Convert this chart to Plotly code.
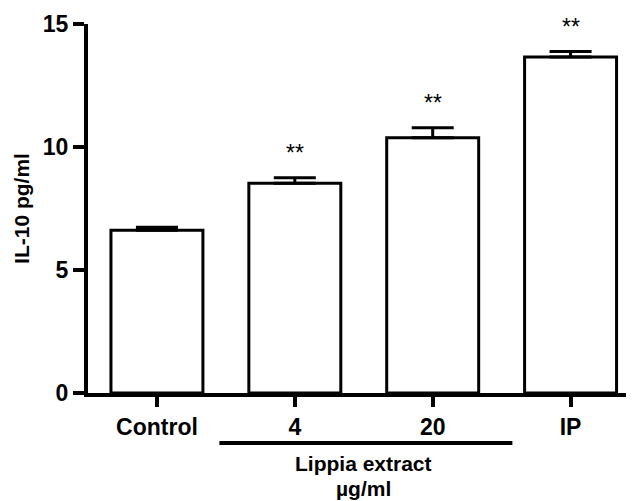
import plotly.graph_objects as go

categories = ["Control", "4", "20", "IP"]
values = [6.62, 8.53, 10.38, 13.66]
errors = [0.12, 0.22, 0.40, 0.22]
significance = ["", "**", "**", "**"]
y_ticks = [0, 5, 10, 15]
group_label = "Lippia extract"
unit_label = "µg/ml"

FONT = "Arial, Liberation Sans, Helvetica, sans-serif"
x_idx = list(range(len(categories)))

fig = go.Figure()
fig.add_trace(go.Bar(
    x=x_idx, y=values, width=0.667,
    marker=dict(color="white", line=dict(color="black", width=3)),
    error_y=dict(type="data", symmetric=False, array=errors,
                 arrayminus=[0] * len(errors),
                 color="black", thickness=3, width=21),
    showlegend=False,
))

annotations = []
for i, (v, e, s) in enumerate(zip(values, errors, significance)):
    if s:
        annotations.append(dict(
            x=i, y=v + e, xref="x", yref="y", text=s, showarrow=False,
            yanchor="bottom", yshift=10,
            font=dict(family=FONT, size=23, color="black"),
        ))

annotations.append(dict(x=1.5, y=-0.192, xref="x", yref="paper", text=group_label,
                        showarrow=False, yanchor="middle",
                        font=dict(family=FONT, size=21, color="black", weight="bold")))
annotations.append(dict(x=1.5, y=-0.26, xref="x", yref="paper", text=unit_label,
                        showarrow=False, yanchor="middle",
                        font=dict(family=FONT, size=21, color="black", weight="bold")))

fig.add_shape(type="line", x0=0.453, x1=2.578, y0=-0.1355, y1=-0.1355,
              xref="x", yref="paper", line=dict(color="black", width=4))

fig.update_layout(
    width=626, height=493,
    margin=dict(l=80, r=0, t=16, b=108),
    paper_bgcolor="white", plot_bgcolor="white",
    annotations=annotations,
    font=dict(family=FONT, color="black"),
    xaxis=dict(
        range=[-0.5, 3.46],
        tickmode="array", tickvals=x_idx, ticktext=categories,
        showline=True, linecolor="black", linewidth=4,
        ticks="outside", ticklen=10, tickwidth=4, tickcolor="black",
        tickfont=dict(family=FONT, size=23, color="black", weight="bold"),
        showgrid=False, zeroline=False, fixedrange=True,
    ),
    yaxis=dict(
        range=[0, 15],
        tickmode="array", tickvals=y_ticks,
        showline=True, linecolor="black", linewidth=4,
        ticks="outside", ticklen=11, tickwidth=4, tickcolor="black",
        tickfont=dict(family=FONT, size=23, color="black", weight="bold"),
        title=dict(text="IL-10 pg/ml", standoff=8,
                   font=dict(family=FONT, size=21, color="black", weight="bold")),
        showgrid=False, zeroline=False,
    ),
)

fig.write_html("out.html")
